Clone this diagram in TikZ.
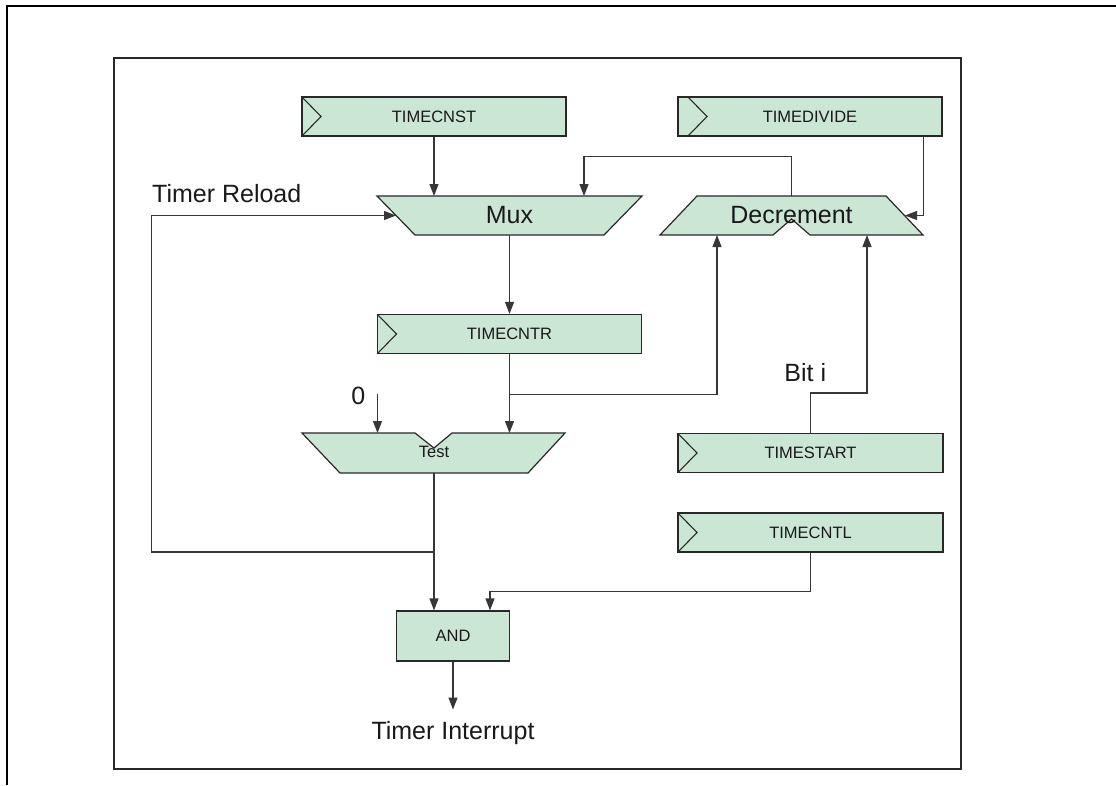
\documentclass[tikz,border=0pt]{standalone}
\usepackage{fontspec}
\setmainfont{Liberation Sans}
\usetikzlibrary{arrows.meta,calc}
\definecolor{regfill}{RGB}{204,230,213}
\definecolor{wirecol}{RGB}{55,55,55}
\definecolor{edgecol}{RGB}{40,40,40}
\definecolor{ink}{RGB}{25,25,25}
\begin{document}
\begin{tikzpicture}[x=1pt,y=-1pt,
  wire/.style={draw=wirecol, line width=1.2pt},
  conn/.style={wire, -{Triangle[length=12pt,width=9pt]}},
  blockfill/.style={draw=edgecol, fill=regfill, line width=1.2pt, line join=miter},
  small/.style={font=\fontsize{16.5}{20}\selectfont, text=ink},
  big/.style={font=\fontsize{25}{30}\selectfont, text=ink, inner sep=0pt},
  reg/.style={blockfill, small, minimum height=39pt, inner sep=0pt,
    path picture={\draw[edgecol, line width=1.1pt]
      ([xshift=#1]path picture bounding box.north west) -- ++(19pt,-19.5pt)
      -- ([xshift=#1]path picture bounding box.south west);}},
  reg/.default=0pt,
  gate/.style={blockfill, small, inner sep=0pt}
]
\useasboundingbox (0,0) rectangle (1116,785);

% frames
\draw[black, line width=2.4pt] (7,785) -- (7,6) -- (1116,6);
\draw[edgecol, line width=2pt] (114,57.5) rectangle (961,769);

% registers
\node[reg, minimum width=264pt] (cnst) at (434,116.5) {TIMECNST};
\node[reg=10pt, minimum width=264pt] (div) at (810,116.5) {TIMEDIVIDE};
\node[reg, minimum width=264pt] (cntr) at (509.5,334) {TIMECNTR};
\node[reg, minimum width=265pt] (start) at (810.5,453) {TIMESTART};
\node[reg, minimum width=265pt] (cntl) at (810.5,532.5) {TIMECNTL};
\node[gate, minimum width=113pt, minimum height=50pt] (and) at (453,636) {AND};

% multiplexer
\draw[blockfill] (377,196) -- (642,196) -- (604,235) -- (415,235) -- cycle;
\node[big] (mux) at (509.5,215.5) {Mux};
\coordinate (muxL) at (396,215.5);
\coordinate (muxT1) at (434,196);
\coordinate (muxT2) at (584,196);
\coordinate (muxB) at (509.5,235);

% decrement unit
\draw[blockfill] (697,196) -- (886,196) -- (923,235) -- (810,235) -- (791.5,219)
  -- (773,235) -- (660,235) -- cycle;
\node[big] (dec) at (791.5,215) {Decrement};
\coordinate (decT) at (791.5,196);
\coordinate (decR) at (905,215.5);
\coordinate (decB1) at (717,235);
\coordinate (decB2) at (867,235);

% comparator
\draw[blockfill] (302,433) -- (415,433) -- (434,448) -- (452,433) -- (565,433)
  -- (528,473) -- (340,473) -- cycle;
\node[small, inner sep=0pt] (test) at (434,451.5) {Test};
\coordinate (testT0) at (377.5,433);
\coordinate (testT1) at (509.5,433);
\coordinate (testB) at (434,473);

% labels
\node[big, anchor=base west] (reload) at (152,202) {Timer Reload};
\node[big] (zero) at (358.3,395.5) {0};
\node[big] (bit) at (805.3,373) {Bit i};
\node[big, anchor=base] (irq) at (453,739) {Timer Interrupt};
\coordinate (zeroIn) at (377.5,394);
\coordinate (irqIn) at (453,709.5);

% connections
\draw[conn] (cnst.south) -- (muxT1);
\draw[conn] (decT) -- ++(0,-39.5) -| (muxT2);
\draw[conn] ([xshift=-19pt]div.south east) |- (decR);
\draw[conn] (muxB) -- (cntr.north);
\draw[conn] (cntr.south) -- (testT1);
\draw[conn] (cntr.south) ++(0,40) -| (decB1);
\draw[conn] (zeroIn) -- (testT0);
\draw[conn] (start.north) -- ++(0,-40) -| (decB2);
\draw[conn] (testB) -- (testB |- and.north);
\draw[conn] ($(testB)+(0,79)$) -- ++(-282.3,0) |- (muxL);
\draw[conn] (cntl.south) -- ++(0,38.5) -| ([xshift=37pt]and.north);
\draw[conn] (and.south) -- (irqIn);
\end{tikzpicture}
\end{document}
